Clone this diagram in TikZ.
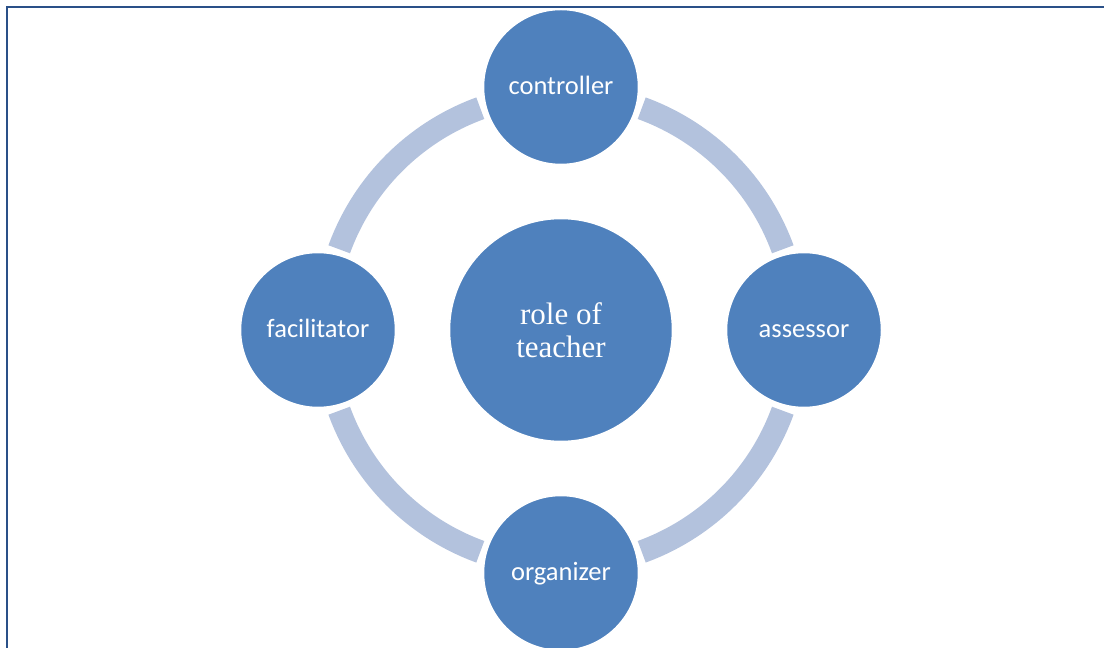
\documentclass[tikz,border=0pt]{standalone}
\usepackage{fontspec}
\setmainfont{Liberation Serif}
\newfontfamily\carlitofont{Carlito}
\definecolor{circfill}{HTML}{4F81BD}
\definecolor{ringcol}{HTML}{B3C2DD}
\definecolor{framecol}{HTML}{2A5088}
\tikzset{
  rolebox/.style={circle, fill=circfill, draw=white, line width=1.5pt, minimum size=155pt, inner sep=0pt, text=white, text height=20pt, text depth=5pt, font=\carlitofont\fontsize{26.5}{30}\selectfont},
  hubbox/.style={circle, fill=circfill, draw=white, line width=1.5pt, minimum size=223pt, inner sep=0pt, text=white, align=center, font=\fontsize{31}{33}\selectfont},
  ring/.style={draw=ringcol, line width=23pt, line cap=butt},
  framestyle/.style={draw=framecol, line width=2.6pt}
}
\begin{document}
\begin{tikzpicture}[x=1pt,y=1pt]
\useasboundingbox (0,0) rectangle (1104,648);
\clip (0,0) rectangle (1104,648);
\coordinate (c) at (561,318);
\draw[framestyle] (7,-10) -- (7,641) -- (1115,641);
\foreach \a in {0,90,180,270}{
  \draw[ring] (c) ++(\a+20:236) arc[start angle=\a+20, end angle=\a+70, radius=236];
}
\node[hubbox] (hub) at (c) {role of\\teacher};
\node[rolebox] (controller) at (561,561) {controller};
\node[rolebox] (facilitator) at (318,318) {facilitator};
\node[rolebox] (assessor) at (804,318) {assessor};
\node[rolebox] (organizer) at (561,75) {organizer};
\end{tikzpicture}
\end{document}
